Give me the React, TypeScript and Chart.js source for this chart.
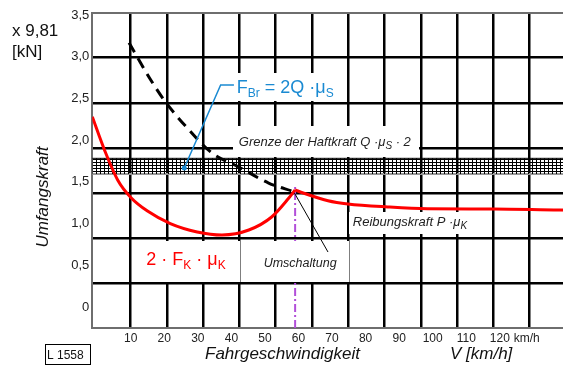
import React, { useEffect, useRef } from 'react';
import { Chart, registerables } from 'chart.js';

Chart.register(...registerables);

// ---- tick labels ----
const speedTicks = [10, 20, 30, 40, 50, 60, 70, 80, 90, 100, 110, 120, 128];
const speedTickLabels = ['10', '20', '30', '40', '50', '60', '70', '80', '90', '100', '110', '120', 'km/h'];
const forceTicks = [0, 0.5, 1, 1.5, 2, 2.5, 3, 3.5];
const forceTickLabels = ['0', '0,5', '1,0', '1,5', '2,0', '2,5', '3,0', '3,5'];

// ---- series: 2 · F_K · μ_K (below switching speed) ----
const adhesionSpeed = [-1.45, 2.2, 6.15, 10.1, 15.0, 21.8, 29.8, 37.2, 45.2, 52.0, 57.0, 59.0];
const adhesionForce = [2.28, 1.88, 1.52, 1.31, 1.15, 1.0, 0.9, 0.863, 0.923, 1.079, 1.3, 1.403];

// ---- series: Reibungskraft P · μ_K (above switching speed) ----
const frictionSpeed = [59.0, 61.4, 68.8, 74.7, 86.6, 98.4, 118.2, 137.7, 148.7];
const frictionForce = [1.403, 1.366, 1.274, 1.235, 1.199, 1.178, 1.175, 1.163, 1.16];

// ---- series: F_Br = 2Q · μ_S (dashed) ----
const brakeSpeed = [9.5, 15.6, 20.3, 26.5, 34.2, 42.2, 51.1, 58.5];
const brakeForce = [3.168, 2.745, 2.461, 2.161, 1.846, 1.678, 1.486, 1.384];

// ---- Grenze der Haftkraft band ----
const limitUpper = 1.782;
const limitLower = 1.594;

// ---- Umschaltung ----
const switchSpeed = 59.0;
const switchTop = 1.438;

// ---- leader lines ----
const brakeLeaderSpeed = [40.76, 36.8, 25.96];
const brakeLeaderForce = [2.661, 2.661, 1.666];
const switchLeaderSpeed = [58.8, 68.8];
const switchLeaderForce = [1.366, 0.659];

// ---- axis ranges ----
const xMin = -1.449;
const xMax = 148.67;
const yMin = -0.2517;
const yMax = 3.5275;
const gridXTicks = [1, 2, 3, 4, 5, 6, 7, 8, 9, 10, 11, 12, 13];
const gridYTicks = [1, 2, 3, 4, 5, 6, 7];

const FONT = '"Liberation Sans", Arial, Helvetica, sans-serif';
const BLUE = '#1a8ad2';
const RED = '#ff0000';
const PURPLE = '#b24fd9';

type Seg = { t: string; size: number; dy?: number };
type Note = { segs: Seg[]; at: [number, number]; color: string; italic: boolean; pad: [number, number, number, number] };

const notes: Note[] = [
  {
    segs: [
      { t: 'F', size: 18 },
      { t: 'Br', size: 12, dy: 4 },
      { t: ' = 2Q \u00B7\u03BC', size: 18 },
      { t: 'S', size: 12, dy: 4 },
    ],
    at: [41.63, 2.565], color: BLUE, italic: false, pad: [3, 20, 8, 7],
  },
  {
    segs: [
      { t: 'Grenze der Haftkraft Q \u00B7\u03BC', size: 13 },
      { t: 'S', size: 10, dy: 3 },
      { t: ' \u00B7 2', size: 13 },
    ],
    at: [42.22, 1.93], color: '#222', italic: true, pad: [5, 19, 8, 11],
  },
  {
    segs: [
      { t: '2 \u00B7 F', size: 18 },
      { t: 'K', size: 12, dy: 4 },
      { t: ' \u00B7 \u03BC', size: 18 },
      { t: 'K', size: 12, dy: 4 },
    ],
    at: [14.64, 0.503], color: RED, italic: false, pad: [14, 24, 14, 16],
  },
  {
    segs: [{ t: 'Umschaltung', size: 12.5 }],
    at: [49.62, 0.479], color: '#222', italic: true, pad: [22, 26, 12, 14],
  },
  {
    segs: [
      { t: 'Reibungskraft P \u00B7\u03BC', size: 13 },
      { t: 'K', size: 10, dy: 3 },
    ],
    at: [76.2, 0.971], color: '#222', italic: true, pad: [3, 13, 3, 8],
  },
];

function fontOf(size: number, italic: boolean) {
  return `${italic ? 'italic ' : ''}${size}px ${FONT}`;
}

function measureRich(ctx: CanvasRenderingContext2D, segs: Seg[], italic: boolean) {
  let w = 0;
  for (const s of segs) {
    ctx.font = fontOf(s.size, italic);
    w += ctx.measureText(s.t).width;
  }
  return w;
}

function drawRich(ctx: CanvasRenderingContext2D, segs: Seg[], x: number, y: number, color: string, italic: boolean) {
  let cx = x;
  ctx.fillStyle = color;
  ctx.textBaseline = 'alphabetic';
  ctx.textAlign = 'left';
  for (const s of segs) {
    ctx.font = fontOf(s.size, italic);
    ctx.fillText(s.t, cx, y + (s.dy || 0));
    cx += ctx.measureText(s.t).width;
  }
}

const pts = (xs: number[], ys: number[]) => xs.map((x, i) => ({ x, y: ys[i] }));

const SWITCH_INDEX = 2;

const notesPlugin = {
  id: 'notes',
  afterDatasetDraw(chart: any, args: any) {
    if (args.index !== SWITCH_INDEX) return;
    const ctx: CanvasRenderingContext2D = chart.ctx;
    const xs = chart.scales.x;
    const ys = chart.scales.y;
    ctx.save();
    for (const n of notes) {
      const px = xs.getPixelForValue(n.at[0]);
      const py = ys.getPixelForValue(n.at[1]);
      const w = measureRich(ctx, n.segs, n.italic);
      const l = Math.floor(px - n.pad[0]);
      const t = Math.floor(py - n.pad[1]);
      const r = Math.ceil(px + w + n.pad[2]);
      const b = Math.ceil(py + n.pad[3]);
      ctx.fillStyle = '#fff';
      ctx.fillRect(l, t, r - l, b - t);
      drawRich(ctx, n.segs, px, py, n.color, n.italic);
    }
    ctx.restore();
  },
  afterDraw(chart: any) {
    const ctx: CanvasRenderingContext2D = chart.ctx;
    ctx.save();
    ctx.fillStyle = '#111';
    ctx.textAlign = 'left';
    ctx.textBaseline = 'alphabetic';
    ctx.font = `17px ${FONT}`;
    ctx.fillText('x 9,81', 12, 35.5);
    ctx.fillText('[kN]', 12, 56.5);

    ctx.font = `italic 17px ${FONT}`;
    ctx.fillText('Fahrgeschwindigkeit', 205, 359);
    ctx.fillText('V [km/h]', 450, 359);

    ctx.save();
    ctx.translate(43, 197);
    ctx.rotate(-Math.PI / 2);
    ctx.textAlign = 'center';
    ctx.textBaseline = 'middle';
    ctx.fillText('Umfangskraft', 0, 0);
    ctx.restore();

    ctx.strokeStyle = '#000';
    ctx.lineWidth = 1;
    ctx.strokeRect(45.5, 344.5, 45, 20);
    ctx.font = `12px ${FONT}`;
    ctx.fillStyle = '#111';
    ctx.fillText('L 1558', 47, 358.5);
    ctx.restore();
  },
};

export default function App() {
  const ref = useRef<HTMLCanvasElement>(null);

  useEffect(() => {
    const canvas = ref.current!;
    const ctx = canvas.getContext('2d')!;

    const pc = document.createElement('canvas');
    pc.width = 4;
    pc.height = 3;
    const p = pc.getContext('2d')!;
    p.fillStyle = '#000';
    p.fillRect(0, 0, 4, 1);
    p.fillRect(0, 0, 1, 3);
    const hatch = ctx.createPattern(pc, 'repeat');

    const chart = new Chart(canvas, {
      type: 'line',
      data: {
        datasets: [
          {
            label: 'Grenze oben',
            data: [{ x: xMin, y: limitUpper }, { x: xMax, y: limitUpper }],
            borderColor: '#000',
            borderWidth: 1,
            backgroundColor: hatch as any,
            fill: '+1',
            pointRadius: 0,
            order: 10,
          },
          {
            label: 'Grenze unten',
            data: [{ x: xMin, y: limitLower }, { x: xMax, y: limitLower }],
            borderColor: '#9a9a9a',
            borderWidth: 2,
            fill: false,
            pointRadius: 0,
            order: 10,
          },
          {
            label: 'Umschaltung',
            data: [{ x: switchSpeed, y: yMin }, { x: switchSpeed, y: switchTop }],
            borderColor: PURPLE,
            borderWidth: 2,
            borderDash: [8, 3, 2, 3],
            fill: false,
            pointRadius: 0,
            order: 9,
          },
          {
            label: '2 F_K mu_K',
            data: pts(adhesionSpeed, adhesionForce),
            borderColor: RED,
            borderWidth: 3,
            cubicInterpolationMode: 'monotone',
            fill: false,
            pointRadius: 0,
            order: 5,
          },
          {
            label: 'Reibungskraft',
            data: pts(frictionSpeed, frictionForce),
            borderColor: RED,
            borderWidth: 3,
            cubicInterpolationMode: 'monotone',
            fill: false,
            pointRadius: 0,
            order: 5,
          },
          {
            label: 'F_Br',
            data: pts(brakeSpeed, brakeForce),
            borderColor: '#000',
            borderWidth: 3,
            borderDash: [11, 7],
            cubicInterpolationMode: 'monotone',
            fill: false,
            pointRadius: 0,
            order: 4,
          },
          {
            label: 'FBr leader',
            data: pts(brakeLeaderSpeed, brakeLeaderForce),
            borderColor: BLUE,
            borderWidth: 1.5,
            pointRadius: [0, 0, 2.5],
            pointBackgroundColor: BLUE,
            pointBorderWidth: 0,
            fill: false,
            order: 3,
          },
          {
            label: 'Umschaltung leader',
            data: pts(switchLeaderSpeed, switchLeaderForce),
            borderColor: '#000',
            borderWidth: 1,
            pointRadius: 0,
            fill: false,
            order: 2,
          },
        ],
      },
      options: {
        responsive: false,
        devicePixelRatio: 1,
        animation: false,
        events: [],
        layout: { padding: { top: 12.7, right: 0, bottom: 0, left: 0 } },
        plugins: {
          legend: { display: false },
          tooltip: { enabled: false },
          title: { display: false },
        },
        scales: {
          x: {
            type: 'linear',
            position: 'bottom',
            min: xMin,
            max: xMax,
            grid: { display: false, drawTicks: false },
            border: { display: true, color: '#6e6e6e', width: 2 },
            afterBuildTicks: (axis: any) => {
              axis.ticks = speedTicks.map((v) => ({ value: v }));
            },
            afterFit: (axis: any) => {
              axis.height = 49;
            },
            ticks: {
              autoSkip: false,
              maxRotation: 0,
              padding: 3,
              color: '#222',
              font: { family: FONT, size: 12 },
              callback: (_v: any, i: number) => speedTickLabels[i],
            },
          },
          xg: {
            type: 'linear',
            position: 'bottom',
            min: -0.0588,
            max: 13.832,
            grid: { display: true, drawTicks: false, color: '#000', lineWidth: 2.5 },
            border: { display: false },
            ticks: { display: false },
            afterBuildTicks: (axis: any) => {
              axis.ticks = gridXTicks.map((v) => ({ value: v }));
            },
            afterFit: (axis: any) => {
              axis.height = 0;
            },
          },
          y: {
            type: 'linear',
            position: 'left',
            min: yMin,
            max: yMax,
            grid: { display: false, drawTicks: false },
            border: { display: true, color: '#6e6e6e', width: 2 },
            afterBuildTicks: (axis: any) => {
              axis.ticks = forceTicks.map((v) => ({ value: v }));
            },
            afterFit: (axis: any) => {
              axis.width = 92.3;
            },
            ticks: {
              padding: 3,
              color: '#222',
              font: { family: FONT, size: 13 },
              callback: (_v: any, i: number) => forceTickLabels[i],
            },
          },
          yg: {
            type: 'linear',
            position: 'left',
            min: 0,
            max: 7,
            grid: {
              display: true,
              drawTicks: false,
              color: (c: any) => (c.tick && c.tick.value === 7 ? '#6e6e6e' : '#000'),
              lineWidth: (c: any) => (c.tick && c.tick.value === 7 ? 2 : 2.5),
            },
            border: { display: false },
            ticks: { display: false },
            afterBuildTicks: (axis: any) => {
              axis.ticks = gridYTicks.map((v) => ({ value: v }));
            },
            afterFit: (axis: any) => {
              axis.width = 0;
            },
          },
        },
      } as any,
      plugins: [notesPlugin as any],
    });

    return () => chart.destroy();
  }, []);

  return (
    <div
      style={{
        position: 'fixed',
        left: 0,
        top: 0,
        width: 563,
        height: 377,
        overflow: 'hidden',
        background: '#fff',
      }}
    >
      <canvas ref={ref} width={600} height={377} style={{ display: 'block', width: 600, height: 377 }} />
    </div>
  );
}
